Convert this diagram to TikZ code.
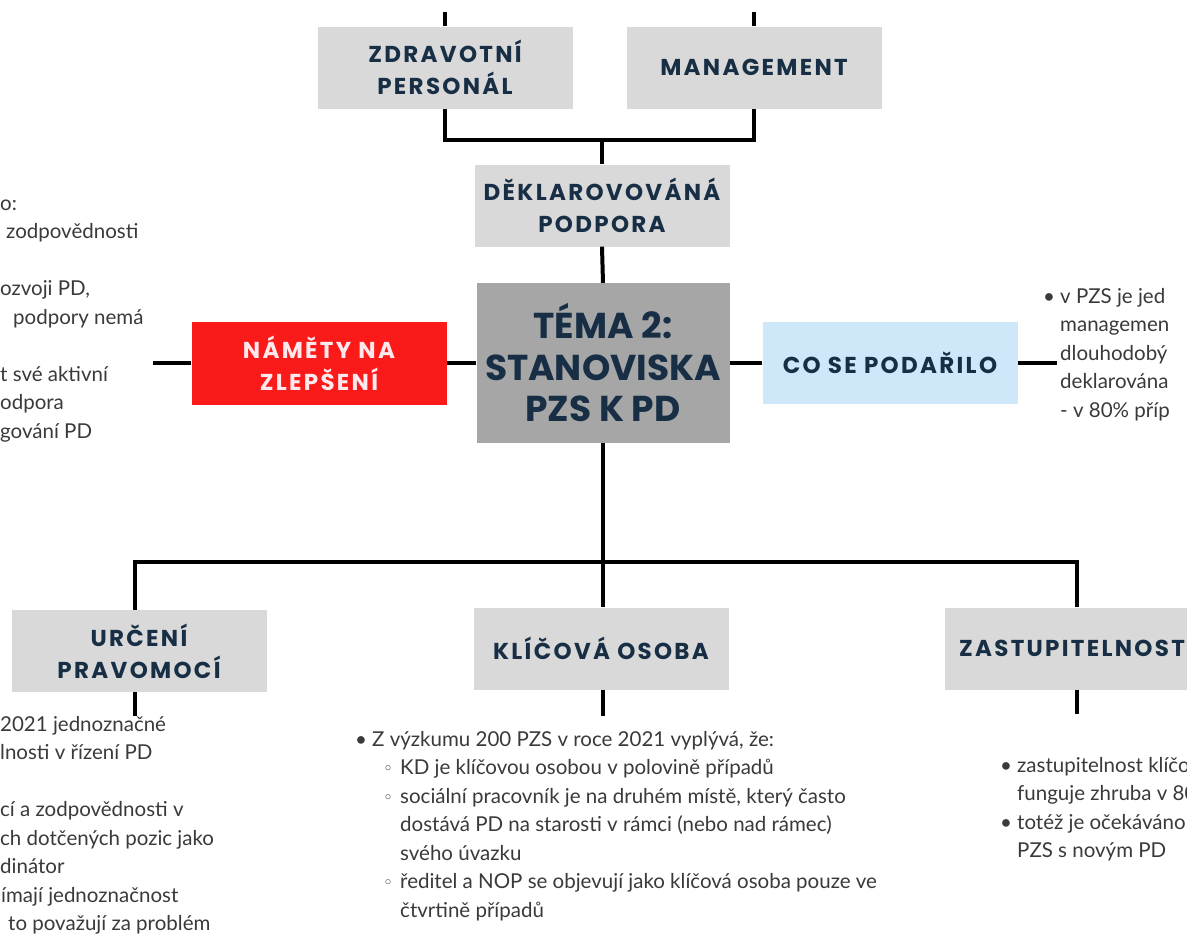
\documentclass[tikz,border=0pt]{standalone}
\usepackage{fontspec}
\setmainfont{Lato}
\newfontfamily\headfont{Poppins}[LetterSpace=10]
\newfontfamily\titlefont{Poppins}
\newfontfamily\symfont{DejaVu Sans}
\definecolor{boxgray}{HTML}{D9D9D9}
\definecolor{temagray}{HTML}{A6A6A6}
\definecolor{alertred}{HTML}{FA1A1A}
\definecolor{paleblue}{HTML}{CFE8F9}
\definecolor{navy}{HTML}{172E45}
\definecolor{bodytext}{HTML}{3A3A3A}
\definecolor{palepink}{HTML}{FDE9EC}
\tikzset{
  card/.style={fill=boxgray, minimum width=255pt, minimum height=82pt, inner sep=0pt,
    align=center, text=navy, font=\headfont\bfseries\fontsize{23}{32}\selectfont},
  wire/.style={line width=4pt, black},
  body/.style={anchor=north west, inner sep=0pt, align=left, text=bodytext,
    font=\fontsize{20.5}{28.5}\selectfont},
}
\newcommand{\blt}{\makebox[17pt][l]{•}}
\newcommand{\sblt}{\hspace*{28pt}\makebox[17pt][l]{\symfont\fontsize{17}{17}\selectfont ◦}}
\newcommand{\sind}{\hspace*{45pt}}
\begin{document}
\begin{tikzpicture}[x=1pt,y=-1pt]
\useasboundingbox (0,0) rectangle (1187,940);
\fill[white] (0,0) rectangle (1187,940);
\clip (0,0) rectangle (1187,940);

% boxes of the upper branch
\node[card] (zp) at (445,67.5) {ZDRAVOTNÍ\\PERSONÁL};
\node[card] (mg) at (754,67.5) {MANAGEMENT};
\node[card] (dek) at (602,205.5) {DĚKLAROVOVÁNÁ\\PODPORA};

% central topic
\node[card, fill=temagray, minimum width=253pt, minimum height=160pt,
  font=\titlefont\bfseries\fontsize{36}{41.5}\selectfont] (tema) at (603,363)
  {TÉMA 2:\\STANOVISKA\\PZS K PD};

% side boxes
\node[card, fill=alertred, text=palepink, minimum height=83pt] (nam) at (319,363)
  {NÁMĚTY NA\\ZLEPŠENÍ};
\node[card, fill=paleblue] (co) at (890,363) {CO SE PODAŘILO};

% lower branch
\node[card] (urc) at (139,651) {URČENÍ\\PRAVOMOCÍ};
\node[card] (kli) at (601,648.5) {KLÍČOVÁ OSOBA};
\node[card] (zas) at (1072,648.5) {ZASTUPITELNOST};

% free ends of the connectors
\coordinate (zptop) at (445,12);
\coordinate (mgtop) at (754,12);
\coordinate (topjoin) at (602,140);
\coordinate (leftend) at (153,363);
\coordinate (rightend) at (1057,363);
\coordinate (botjoin) at (603,562);
\coordinate (urcend) at (135,716);
\coordinate (kliend) at (603,716);
\coordinate (zasend) at (1077,714);

% connectors
\draw[wire] (zp.north) -- (zptop);
\draw[wire] (mg.north) -- (mgtop);
\draw[wire] (zp.south) |- (topjoin) -| (mg.south);
\draw[wire] (topjoin) -- (dek.north);
\draw[wire] (dek.south) -- (tema.north);
\draw[wire] (tema.west) -- (nam.east);
\draw[wire] (nam.west) -- (leftend);
\draw[wire] (tema.east) -- (co.west);
\draw[wire] (co.east) -- (rightend);
\draw[wire] (tema.south) -- (botjoin);
\draw[wire] ([xshift=-4pt]urc.north) |- (botjoin) -| ([xshift=5pt]zas.north);
\draw[wire] (botjoin) -- ([xshift=2pt]kli.north);
\draw[wire] ([xshift=-4pt]urc.south) -- (urcend);
\draw[wire] ([xshift=2pt]kli.south) -- (kliend);
\draw[wire] ([xshift=5pt]zas.south) -- (zasend);

% text blocks
\node[body] (lefttop) at (0,190) {\strut o:\\
\hspace*{6pt}zodpovědnosti\\[28.5pt]
ozvoji PD,\\
\hspace*{13pt}podpory nemá\\[28.5pt]
t své aktivní\\
odpora\\
gování PD};

\node[body] (leftbot) at (0,711) {\strut 2021 jednoznačné\\
lnosti v řízení PD\\[28.5pt]
cí a zodpovědnosti v\\
ch dotčených pozic jako\\
dinátor\\
\hspace*{1pt}ímají jednoznačnost\\
\hspace*{8pt}to považují za problém};

\node[body] (klitext) at (355,726) {\strut\blt Z výzkumu 200 PZS v roce 2021 vyplývá, že:\\
\sblt KD je klíčovou osobou v polovině případů\\
\sblt sociální pracovník je na druhém místě, který často\\
\sind dostává PD na starosti v rámci (nebo nad rámec)\\
\sind svého úvazku\\
\sblt ředitel a NOP se objevují jako klíčová osoba pouze ve\\
\sind čtvrtině případů};

\node[body] (zastext) at (1000,752) {\strut\blt zastupitelnost klíčo\\
\hspace*{17pt}funguje zhruba v 80\\
\blt totéž je očekáváno\\
\hspace*{17pt}PZS s novým PD};

\node[body] (cotext) at (1043,283) {\strut\blt v PZS je jed\\
\hspace*{17pt}managemen\\
\hspace*{17pt}dlouhodobý\\
\hspace*{17pt}deklarována\\
\hspace*{17pt}- v 80\% příp};
\end{tikzpicture}
\end{document}
